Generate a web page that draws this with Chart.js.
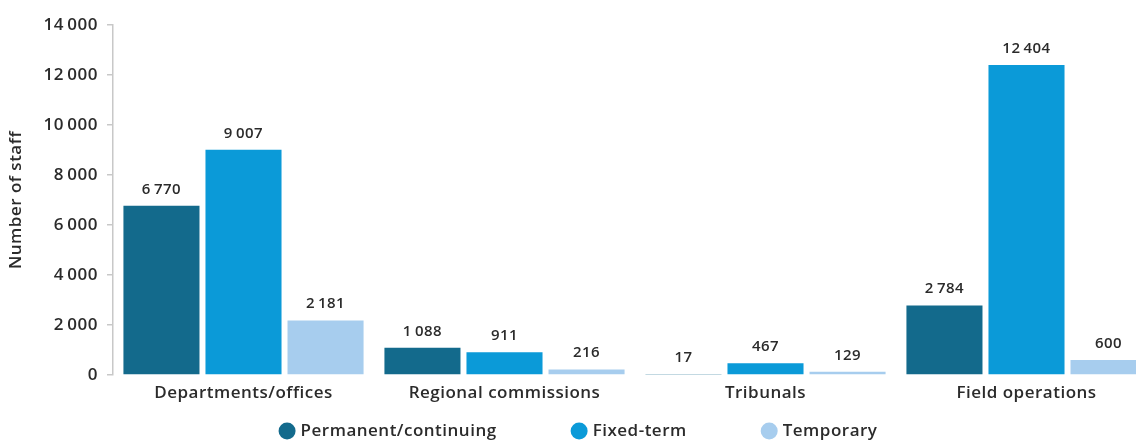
<!DOCTYPE html>
<html>
<head>
<meta charset="utf-8">
<script src="https://cdn.jsdelivr.net/npm/chart.js@4.4.1/dist/chart.umd.min.js"></script>
<style>
  html, body { margin: 0; padding: 0; background: #fff; overflow: hidden; }
  #wrap { width: 1160px; height: 440px; }
</style>
</head>
<body>
<div id="wrap"><canvas id="c" width="1160" height="440"></canvas></div>
<script>
const categories = ["Departments/offices", "Regional commissions", "Tribunals", "Field operations"];
const permanent = [6770, 1088, 17, 2784];
const fixedTerm = [9007, 911, 467, 12404];
const temporary = [2181, 216, 129, 600];
const seriesNames = ["Permanent/continuing", "Fixed-term", "Temporary"];
const yTicks = [0, 2000, 4000, 6000, 8000, 10000, 12000, 14000];
const yTitle = "Number of staff";

const colors = ["#136a8c", "#0b9ad8", "#a7cdee"];
const FONT = "'Open Sans'";
const TEXT = "#2b2b2b";
const SPACING = "0.5px";

function fmt(v) {
  return String(v).replace(/\B(?=(\d{3})+(?!\d))/g, "\u2009");
}

const spacing = {
  id: "spacing",
  beforeDraw(chart) { chart.ctx.letterSpacing = SPACING; }
};

const valueLabels = {
  id: "valueLabels",
  afterDatasetsDraw(chart) {
    const ctx = chart.ctx;
    ctx.save();
    ctx.letterSpacing = SPACING;
    ctx.font = "600 15px " + FONT;
    ctx.fillStyle = TEXT;
    ctx.textAlign = "center";
    ctx.textBaseline = "bottom";
    chart.data.datasets.forEach((ds, i) => {
      const meta = chart.getDatasetMeta(i);
      meta.data.forEach((bar, j) => {
        ctx.fillText(fmt(ds.data[j]), bar.x, bar.y - 9);
      });
    });
    ctx.restore();
  }
};

const customLegend = {
  id: "customLegend",
  afterDraw(chart) {
    const ctx = chart.ctx;
    ctx.save();
    ctx.letterSpacing = SPACING;
    ctx.font = "600 17px " + FONT;
    ctx.textBaseline = "middle";
    const r = 8.5, gapText = 5, gapItem = 74;
    const items = chart.data.datasets.map(ds => ({
      label: ds.label, color: ds.backgroundColor,
      w: 2 * r + gapText + ctx.measureText(ds.label).width
    }));
    const total = items.reduce((s, it) => s + it.w, 0) + gapItem * (items.length - 1);
    let x = 578 - total / 2;
    const y = 431;
    items.forEach(it => {
      ctx.fillStyle = it.color;
      ctx.beginPath();
      ctx.arc(x + r, y, r, 0, Math.PI * 2);
      ctx.fill();
      ctx.fillStyle = TEXT;
      ctx.textAlign = "left";
      ctx.fillText(it.label, x + 2 * r + gapText, y);
      x += it.w + gapItem;
    });
    ctx.restore();
  }
};

new Chart(document.getElementById("c"), {
  type: "bar",
  data: {
    labels: categories,
    datasets: [
      { label: seriesNames[0], data: permanent, backgroundColor: colors[0] },
      { label: seriesNames[1], data: fixedTerm, backgroundColor: colors[1] },
      { label: seriesNames[2], data: temporary, backgroundColor: colors[2] }
    ]
  },
  options: {
    responsive: false,
    animation: false,
    layout: { padding: { top: 25, right: 3, bottom: 0, left: 0 } },
    categoryPercentage: 0.943,
    barPercentage: 0.927,
    plugins: {
      legend: { display: false },
      tooltip: { enabled: false }
    },
    scales: {
      x: {
        grid: { display: false, drawTicks: false },
        border: { display: false },
        ticks: { color: TEXT, font: { family: FONT, size: 17, weight: "600" }, padding: 8, maxRotation: 0 },
        afterFit(axis) { axis.height = 65; }
      },
      y: {
        min: 0, max: 14000,
        afterBuildTicks(axis) { axis.ticks = yTicks.map(v => ({ value: v })); },
        grid: { drawOnChartArea: false, drawTicks: true, tickLength: 6, color: "#c8c8c8", lineWidth: 1.5 },
        border: { display: true, color: "#c8c8c8", width: 1.5 },
        ticks: { color: TEXT, font: { family: FONT, size: 17, weight: "600" }, padding: 9, callback: v => fmt(v) },
        title: { display: true, text: yTitle, color: TEXT, font: { family: FONT, size: 17, weight: "600" }, padding: { top: 6, bottom: 0 } },
        afterFit(axis) { axis.width = 113; }
      }
    }
  },
  plugins: [spacing, valueLabels, customLegend]
});
</script>
</body>
</html>
